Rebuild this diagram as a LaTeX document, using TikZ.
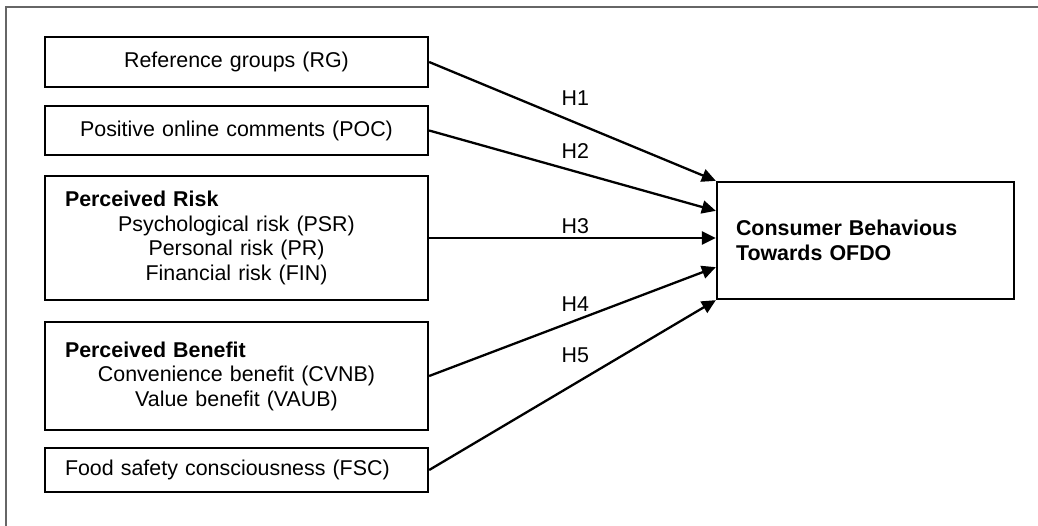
\documentclass[tikz,border=0pt]{standalone}
\usepackage{fontspec}
\setmainfont{Liberation Sans}
\usetikzlibrary{arrows.meta,positioning}
\tikzset{>={Triangle[width=13pt,length=14pt]}}
\tikzset{every node/.style={font=\fontsize{21.4}{24.5}\selectfont}}

\begin{document}
\begin{tikzpicture}[x=1pt, y=-1pt, line width=2.3pt]
  \tikzstyle{box}=[draw, inner sep=0pt, minimum width=383pt, text width=343pt, align=center]
  \tikzstyle{hyp}=[pos=.51]
    \useasboundingbox (0,0) rectangle (1038,525);
    \draw [black!60, line width=1.5pt] (1045,7) -- (6,7) -- (6,530);

    \node(rg)  [box, minimum height=50pt] at (236.5,62)    {Reference groups (RG)};
    \node(poc) [box, minimum height=49pt] at (236.5,130.5) {Positive online comments (POC)};
    \node(pr)  [box, minimum height=124pt] at (236.5,238)
      {\makebox[343pt][l]{\textbf{Perceived Risk}}\\ Psychological risk (PSR)\\ Personal risk (PR)\\ Financial risk (FIN)};
    \node(pb)  [box, minimum height=108pt] at (236.5,376)
      {\makebox[343pt][l]{\textbf{Perceived Benefit}}\\ Convenience benefit (CVNB)\\ Value benefit (VAUB)};
    \node(fsc) [box, minimum height=44pt, align=left] at (236.5,470) {Food safety consciousness (FSC)};
    \node(cb)  [box, minimum width=297pt, text width=259pt, minimum height=117pt, align=left] at (865.5,240.5)
      {\textbf{Consumer Behavious}\\ \textbf{Towards OFDO}};

    %\draw [->] (pr.east) to node [above] {H3} (cb.west);
    \draw [->] (rg.east)  to node [hyp, yshift=24pt] {H1} (cb.north west);
    \draw [->] (poc.east) to node [hyp, yshift=20pt] {H2} ([yshift=-30pt]cb.north west);
    \draw [->] (pr.east)  to node [hyp, yshift=12pt] {H3} (cb.west |- pr.east);
    \draw [->] (pb.east)  to node [hyp, yshift=16pt] {H4} ([yshift=33pt]cb.south west);
    \draw [->] (fsc.east) to node [hyp, yshift=28pt] {H5} (cb.south west);

  \end{tikzpicture}
\end{document}
